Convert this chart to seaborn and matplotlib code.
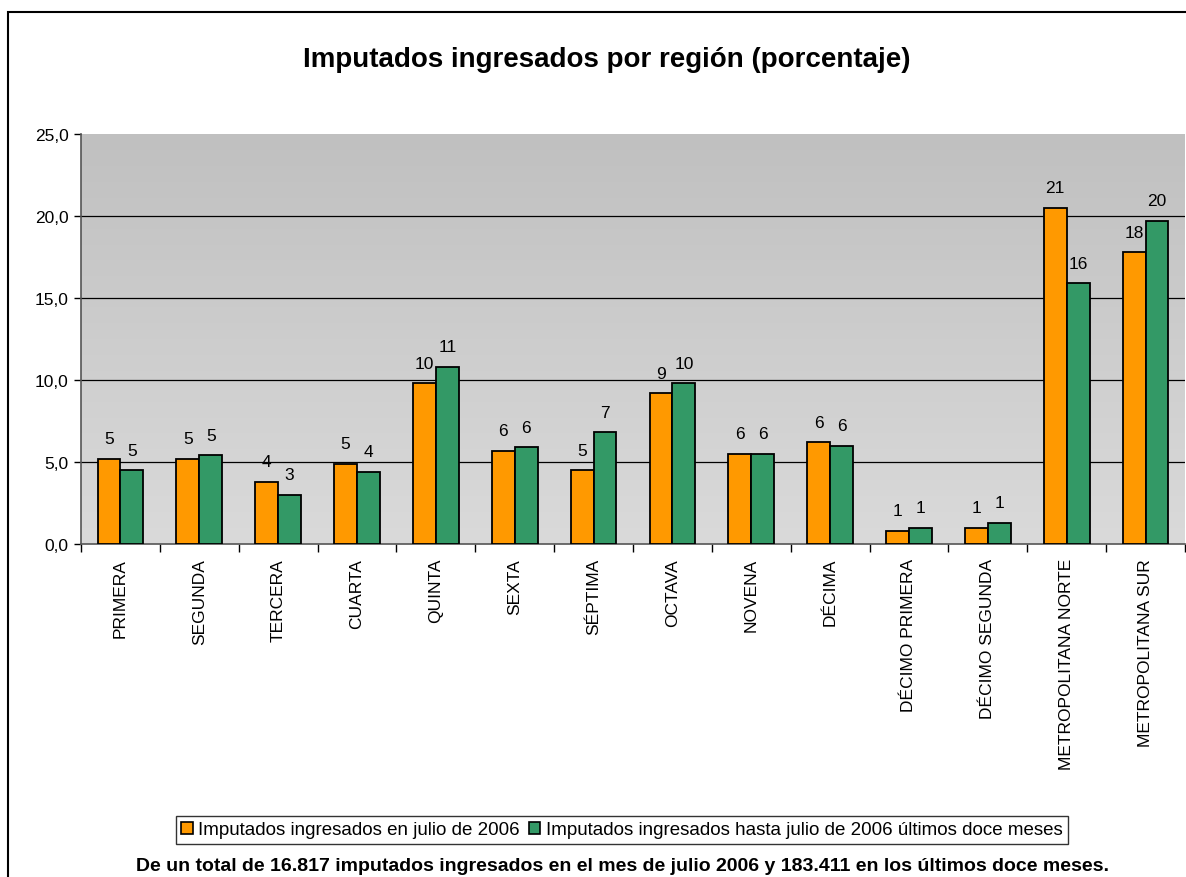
import matplotlib
matplotlib.use("Agg")
import matplotlib.pyplot as plt
import seaborn as sns
import numpy as np
import pandas as pd
from matplotlib.patches import Rectangle
from matplotlib.ticker import FuncFormatter, FixedLocator

regiones = ["PRIMERA", "SEGUNDA", "TERCERA", "CUARTA", "QUINTA", "SEXTA", "SÉPTIMA",
            "OCTAVA", "NOVENA", "DÉCIMA", "DÉCIMO PRIMERA", "DÉCIMO SEGUNDA",
            "METROPOLITANA NORTE", "METROPOLITANA SUR"]
julio = [5.2, 5.2, 3.8, 4.9, 9.8, 5.7, 4.5, 9.2, 5.5, 6.2, 0.8, 1.0, 20.5, 17.8]
doce_meses = [4.5, 5.4, 3.0, 4.4, 10.8, 5.9, 6.8, 9.8, 5.5, 6.0, 1.0, 1.3, 15.9, 19.7]
serie_julio = "Imputados ingresados en julio de 2006"
serie_doce = "Imputados ingresados hasta julio de 2006 últimos doce meses"

df = pd.DataFrame({
    "region": regiones * 2,
    "valor": julio + doce_meses,
    "serie": [serie_julio] * len(regiones) + [serie_doce] * len(regiones),
})

sns.set_theme(style="white")
plt.rcParams["font.family"] = ["Liberation Sans", "DejaVu Sans"]
plt.rcParams["text.color"] = "black"
plt.rcParams["xtick.color"] = "black"
plt.rcParams["ytick.color"] = "black"

fig = plt.figure(figsize=(11.86, 8.78), dpi=100)
ax = fig.add_axes([81 / 1186, 333 / 878, 1104 / 1186, 410 / 878])

# gradient background of plot area
grad = np.linspace(0, 1, 256).reshape(-1, 1)
ax.imshow(grad, extent=[0, 1, 0, 1], transform=ax.transAxes, aspect="auto",
          cmap=matplotlib.colors.LinearSegmentedColormap.from_list("g", ["#c0c0c0", "#dadada"]),
          zorder=0)

sns.barplot(data=df, x="region", y="valor", hue="serie", ax=ax,
            palette=["#ff9900", "#339966"], width=0.58, gap=0,
            edgecolor="black", linewidth=1.3, saturation=1, zorder=3)

ax.set_xlim(-0.5, len(regiones) - 0.5)
ax.set_ylim(0, 25)
ax.set_yticks([0, 5, 10, 15, 20, 25])
ax.yaxis.set_major_formatter(FuncFormatter(lambda v, p: f"{v:.1f}".replace(".", ",")))
for v in [5, 10, 15, 20]:
    ax.axhline(v, color="black", linewidth=0.9, zorder=1)

ax.set_xlabel("")
ax.set_ylabel("")
ax.tick_params(axis="y", labelsize=12.5, length=5, width=1, direction="out", left=True,
               pad=4, labelcolor="black")
ax.tick_params(axis="x", which="major", length=0, labelsize=12.5, rotation=90, pad=10,
               labelcolor="black")
ax.xaxis.set_minor_locator(FixedLocator(np.arange(-0.5, len(regiones), 1.0)))
ax.tick_params(axis="x", which="minor", length=6, width=1, direction="out", bottom=True)
for lab in ax.get_xticklabels():
    lab.set_verticalalignment("top")

for s in ["top", "right"]:
    ax.spines[s].set_visible(False)
for s in ["left", "bottom"]:
    ax.spines[s].set_color("#555555")
    ax.spines[s].set_linewidth(1.2)

for cont, vals in zip(ax.containers, [julio, doce_meses]):
    ax.bar_label(cont, labels=[f"{int(v + 0.5):d}" for v in vals], padding=9,
                 fontsize=12.5, color="black")

ax.get_legend().remove()
handles = [Rectangle((0, 0), 1, 1, facecolor=c, edgecolor="black", linewidth=1.2)
           for c in ["#ff9900", "#339966"]]
leg = fig.legend(handles, [serie_julio, serie_doce], loc="center",
                 bbox_to_anchor=(622 / 1186, 47 / 878), ncol=2, fontsize=13.5,
                 frameon=True, fancybox=False, handlelength=0.6, handleheight=0.6,
                 handletextpad=0.3, columnspacing=0.5, borderpad=0.3)
leg.get_frame().set_edgecolor("black")
leg.get_frame().set_linewidth(1)

fig.text(607 / 1186, 1 - 60 / 878, "Imputados ingresados por región (porcentaje)",
         ha="center", va="center", fontsize=20, fontweight="bold")
fig.text(622 / 1186, 1 - 867 / 878,
         "De un total de 16.817 imputados ingresados en el mes de julio 2006 y 183.411 en los últimos doce meses.",
         ha="center", va="center", fontsize=14, fontweight="bold")

fig.patches.append(Rectangle((8 / 1186, -0.02), 1.0, 1 - 13 / 878 + 0.02,
                             transform=fig.transFigure, fill=False,
                             edgecolor="black", linewidth=1.5))

fig.savefig("out.png", dpi=100, facecolor="white")
